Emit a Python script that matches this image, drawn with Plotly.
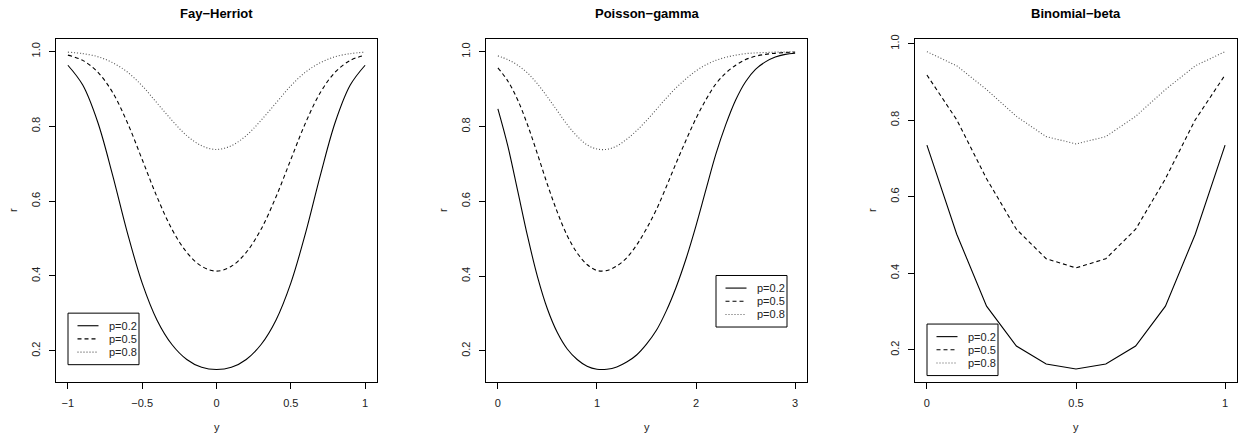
import plotly.graph_objects as go

# ---------------- data ----------------
fh_x = [-1.0, -0.9, -0.8, -0.7, -0.6, -0.5, -0.4, -0.3, -0.2, -0.1, 0.0,
        0.1, 0.2, 0.3, 0.4, 0.5, 0.6, 0.7, 0.8, 0.9, 1.0]
fh_p02 = [0.963, 0.910, 0.812, 0.671, 0.516, 0.381, 0.282, 0.217, 0.177, 0.156, 0.150,
          0.156, 0.177, 0.217, 0.282, 0.381, 0.516, 0.671, 0.812, 0.910, 0.963]
fh_p05 = [0.990, 0.976, 0.945, 0.891, 0.810, 0.711, 0.611, 0.525, 0.463, 0.426, 0.413,
          0.426, 0.463, 0.525, 0.611, 0.711, 0.810, 0.891, 0.945, 0.976, 0.990]
fh_p08 = [0.998, 0.994, 0.986, 0.970, 0.945, 0.908, 0.862, 0.816, 0.775, 0.748, 0.738,
          0.748, 0.775, 0.816, 0.862, 0.908, 0.945, 0.970, 0.986, 0.994, 0.998]

pg_x = [0.0, 0.1, 0.2, 0.3, 0.4, 0.5, 0.6, 0.7, 0.8, 0.9, 1.0,
        1.1, 1.2, 1.3, 1.4, 1.5, 1.6, 1.7, 1.8, 1.9, 2.0,
        2.1, 2.2, 2.3, 2.4, 2.5, 2.6, 2.7, 2.8, 2.9, 3.0]
pg_p02 = [0.847, 0.748, 0.628, 0.506, 0.398, 0.312, 0.249, 0.205, 0.177, 0.159, 0.151,
          0.151, 0.157, 0.170, 0.189, 0.218, 0.255, 0.307, 0.371, 0.447, 0.535,
          0.631, 0.726, 0.805, 0.871, 0.920, 0.953, 0.973, 0.986, 0.993, 0.996]
pg_p05 = [0.957, 0.922, 0.871, 0.804, 0.726, 0.645, 0.571, 0.508, 0.462, 0.431, 0.415,
          0.415, 0.427, 0.449, 0.483, 0.527, 0.578, 0.639, 0.703, 0.764, 0.822,
          0.872, 0.914, 0.943, 0.964, 0.979, 0.988, 0.993, 0.996, 0.998, 0.999]
pg_p08 = [0.989, 0.979, 0.964, 0.943, 0.914, 0.879, 0.842, 0.805, 0.774, 0.751, 0.740,
          0.739, 0.748, 0.766, 0.789, 0.816, 0.846, 0.876, 0.904, 0.928, 0.949,
          0.965, 0.977, 0.985, 0.991, 0.995, 0.997, 0.998, 0.999, 0.9995, 0.9998]

bb_x = [0.0, 0.1, 0.2, 0.3, 0.4, 0.5, 0.6, 0.7, 0.8, 0.9, 1.0]
bb_p02 = [0.735, 0.502, 0.314, 0.210, 0.163, 0.150, 0.163, 0.210, 0.314, 0.502, 0.735]
bb_p05 = [0.918, 0.801, 0.647, 0.515, 0.438, 0.414, 0.438, 0.515, 0.647, 0.801, 0.918]
bb_p08 = [0.979, 0.942, 0.880, 0.810, 0.757, 0.738, 0.757, 0.810, 0.880, 0.942, 0.979]

series_names = ["p=0.2", "p=0.5", "p=0.8"]
titles = ["Fay\u2212Herriot", "Poisson\u2212gamma", "Binomial\u2212beta"]
x_ticks = [[-1, -0.5, 0, 0.5, 1], [0, 1, 2, 3], [0, 0.5, 1]]
y_ticks = [0.2, 0.4, 0.6, 0.8, 1.0]

# ---------------- styling ----------------
W, H = 1242, 438
FONT = "Liberation Sans, Arial, Helvetica, sans-serif"
dashes = ["solid", "4px,3px", "1px,2px"]
colors = ["black", "black", "#555555"]

panels = [
    dict(x=fh_x, ys=[fh_p02, fh_p05, fh_p08], shape="spline",
         box=(56, 377), xr=[-1.08, 1.08], yr=[0.118, 1.034], leg=(68, 312)),
    dict(x=pg_x, ys=[pg_p02, pg_p05, pg_p08], shape="spline",
         box=(486, 807), xr=[-0.12, 3.12], yr=[0.118, 1.035], leg=(716, 274)),
    dict(x=bb_x, ys=[bb_p02, bb_p05, bb_p08], shape="linear",
         box=(915, 1237), xr=[-0.04, 1.04], yr=[0.1172, 1.0129], leg=(927, 323)),
]
box_top, box_bot = 35, 381
LEG_W, LEG_H = 71, 52
LEG_ROWS = [12.7, 26.0, 39.3]


def px(xp):
    return xp / W


def py(yp):
    return 1 - yp / H


fig = go.Figure()
annotations = []
shapes = []
layout = dict(
    width=W, height=H, margin=dict(l=0, r=0, t=0, b=0), showlegend=False,
    paper_bgcolor="white", plot_bgcolor="white",
    font=dict(family=FONT, size=11, color="black"),
)

for i, p in enumerate(panels):
    k = "" if i == 0 else str(i + 1)
    for j in range(3):
        fig.add_trace(go.Scatter(
            x=p["x"], y=p["ys"][j], mode="lines", name=series_names[j],
            line=dict(color=colors[j], width=1.1, dash=dashes[j], shape=p["shape"],
                      smoothing=1.0),
            xaxis="x" + k, yaxis="y" + k, hoverinfo="skip",
        ))
    x0, x1 = p["box"]
    layout["xaxis" + k] = dict(
        domain=[x0 / W, x1 / W], range=p["xr"], anchor="y" + k,
        showline=True, mirror=True, linecolor="black", linewidth=1,
        ticks="outside", ticklen=6, tickcolor="black", tickvals=x_ticks[i],
        showgrid=False, zeroline=False, ticklabelstandoff=5,
        tickfont=dict(size=11, color="#222"),
    )
    layout["yaxis" + k] = dict(
        domain=[1 - box_bot / H, 1 - box_top / H], range=p["yr"], anchor="x" + k,
        showline=True, mirror=True, linecolor="black", linewidth=1,
        ticks="outside", ticklen=6, tickcolor="black", tickvals=y_ticks,
        tickformat=".1f", tickangle=-90, showgrid=False, zeroline=False,
        ticklabelstandoff=5, tickfont=dict(size=11, color="#222"),
    )
    # legend box (drawn like R's legend())
    lx, ly = p["leg"]
    shapes.append(dict(type="rect", xref="paper", yref="paper",
                       x0=px(lx), x1=px(lx + LEG_W), y0=py(ly + LEG_H), y1=py(ly),
                       line=dict(color="black", width=1), fillcolor="white", layer="above"))
    for j in range(3):
        yy = ly + LEG_ROWS[j]
        shapes.append(dict(type="line", xref="paper", yref="paper",
                           x0=px(lx + 9.5), x1=px(lx + 30.5), y0=py(yy), y1=py(yy),
                           line=dict(color=colors[j], width=1.1, dash=dashes[j]),
                           layer="above"))
        annotations.append(dict(text=series_names[j], x=px(lx + 38.5), y=py(yy),
                                xref="paper", yref="paper", showarrow=False,
                                xanchor="left", yanchor="middle",
                                font=dict(size=11, color="#222")))
    cx = (x0 + x1) / 2
    annotations.append(dict(
        text="<b>" + titles[i] + "</b>", x=px(cx), y=py(10), xref="paper", yref="paper",
        showarrow=False, font=dict(size=13, color="black"), xanchor="center", yanchor="middle"))
    annotations.append(dict(
        text="y", x=px(cx), y=py(427), xref="paper", yref="paper",
        showarrow=False, font=dict(size=11, color="#222"), xanchor="center", yanchor="middle"))
    annotations.append(dict(
        text="r", x=px(x0 - 43), y=py(208), xref="paper", yref="paper", textangle=-90,
        showarrow=False, font=dict(size=11, color="#222"), xanchor="center", yanchor="middle"))

layout["annotations"] = annotations
layout["shapes"] = shapes
fig.update_layout(**layout)
fig.write_html(
    "out.html",
    config={"displayModeBar": False, "staticPlot": True},
    post_script="document.body.style.margin='0px';document.body.style.overflow='hidden';",
)
